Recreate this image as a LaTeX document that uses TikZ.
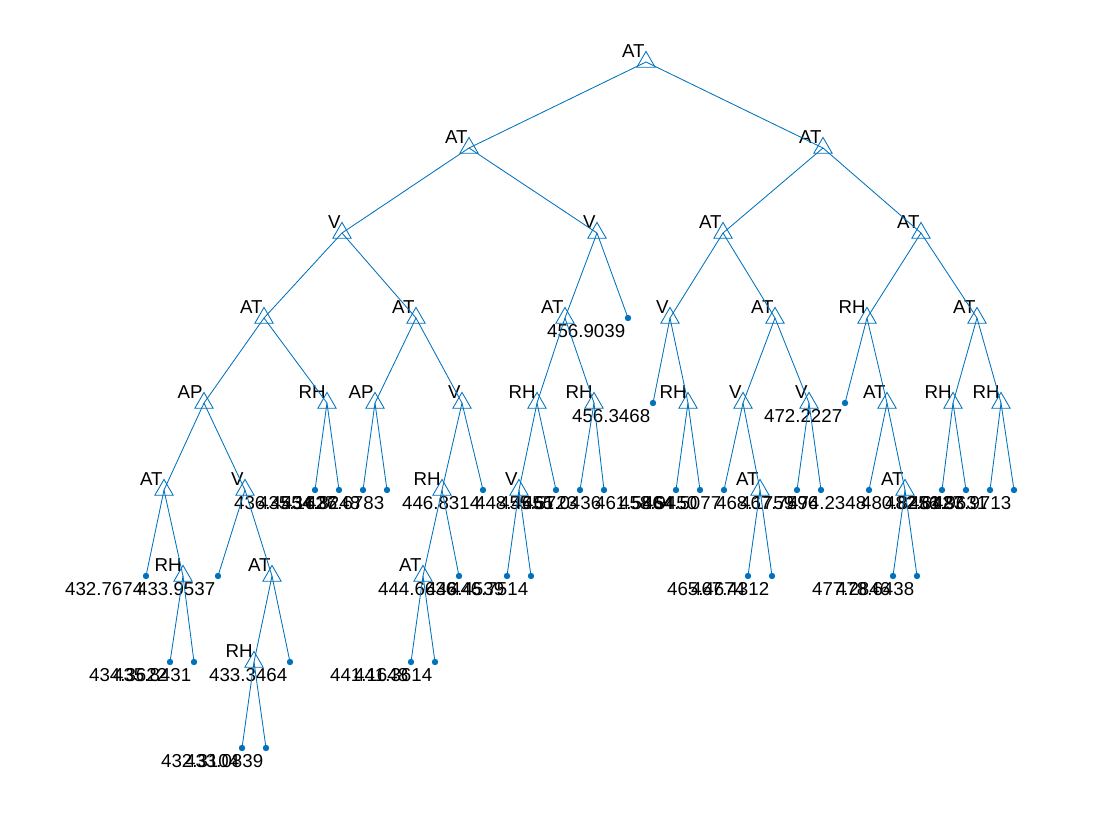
\documentclass[tikz,border=0pt]{standalone}
\usepackage{fontspec}
\setmainfont{Liberation Sans}
\usepackage{tikz}
\usetikzlibrary{shapes.geometric}
\definecolor{treeblue}{RGB}{0,114,189}
\tikzset{
tree/.style={x=0.025cm,y=-0.025cm,line width=0.6pt,
    font=\fontsize{13.3}{16}\selectfont},
split/.style={regular polygon,regular polygon sides=3,draw=treeblue,
    minimum size=0.53cm,inner sep=0pt,
    label={[split label]center:\llap{#1}}},
split label/.style={inner sep=0pt,text=black,xshift=-1pt,yshift=7.5pt},
leaf/.style={circle,fill=treeblue,inner sep=0pt,minimum size=0.16cm,
    label={[leaf label]center:\llap{#1}}},
leaf label/.style={inner sep=0pt,text=black,xshift=-2pt,yshift=-9pt},
branch/.style={draw=treeblue},
}

\begin{document}
\begin{tikzpicture}[tree]
    \useasboundingbox (0,0) rectangle (1120,840);

    % level 0 to 3
    \node[split=AT] (1) at (646,62) {};
    \node[split=AT] (2) at (469,148) {};
    \node[split=AT] (3) at (823,148) {};
    \node[split=V] (4) at (342,233) {};
    \node[split=V] (5) at (597,233) {};
    \node[split=AT] (6) at (723,233) {};
    \node[split=AT] (7) at (921,233) {};
    \node[split=AT] (8) at (264,318) {};
    \node[split=AT] (9) at (416,318) {};
    \node[split=AT] (10) at (565,318) {};
    \node[leaf=456.9039] (11) at (628,318) {};
    \node[split=V] (12) at (670,318) {};
    \node[split=AT] (13) at (775,318) {};
    \node[split=RH] (14) at (867,318) {};
    \node[split=AT] (15) at (977,318) {};

    % level 4
    \node[split=AP] (16) at (204,403) {};
    \node[split=RH] (17) at (327,403) {};
    \node[split=AP] (18) at (375,403) {};
    \node[split=V] (19) at (462,403) {};
    \node[split=RH] (20) at (537,403) {};
    \node[split=RH] (21) at (594,403) {};
    \node[leaf=456.3468] (22) at (653,403) {};
    \node[split=RH] (23) at (688,403) {};
    \node[split=V] (24) at (743,403) {};
    \node[split=V] (25) at (809,403) {};
    \node[leaf=472.2227] (26) at (845,403) {};
    \node[split=AT] (27) at (887,403) {};
    \node[split=RH] (28) at (953,403) {};
    \node[split=RH] (29) at (1001,403) {};

    % level 5
    \node[split=AT] (30) at (164,490) {};
    \node[split=V] (31) at (245,490) {};
    \node[leaf=436.4554] (32) at (315,490) {};
    \node[leaf=435.1627] (33) at (339,490) {};
    \node[leaf=434.8248] (34) at (363,490) {};
    \node[leaf=436.6783] (35) at (387,490) {};
    \node[split=RH] (36) at (442,490) {};
    \node[leaf=446.8314] (37) at (483,490) {};
    \node[split=V] (38) at (519,490) {};
    \node[leaf=448.4655] (39) at (556,490) {};
    \node[leaf=455.5723] (40) at (580,490) {};
    \node[leaf=461.0436] (41) at (604,490) {};
    \node[leaf=461.5864] (42) at (676,490) {};
    \node[leaf=458.9450] (43) at (700,490) {};
    \node[leaf=464.5077] (44) at (724,490) {};
    \node[split=AT] (45) at (760,490) {};
    \node[leaf=468.1759] (46) at (797,490) {};
    \node[leaf=467.7596] (47) at (821,490) {};
    \node[leaf=474.2348] (48) at (869,490) {};
    \node[split=AT] (49) at (905,490) {};
    \node[leaf=480.8256] (50) at (942,490) {};
    \node[leaf=482.6427] (51) at (966,490) {};
    \node[leaf=481.9631] (52) at (990,490) {};
    \node[leaf=483.9713] (53) at (1014,490) {};

    % level 6 to 8
    \node[leaf=432.7674] (54) at (146,576) {};
    \node[split=RH] (55) at (183,576) {};
    \node[leaf=433.9537] (56) at (218,576) {};
    \node[split=AT] (57) at (272,576) {};
    \node[split=AT] (58) at (423,576) {};
    \node[leaf=444.6636] (59) at (459,576) {};
    \node[leaf=446.4539] (60) at (507,576) {};
    \node[leaf=446.7514] (61) at (531,576) {};
    \node[leaf=465.4674] (62) at (748,576) {};
    \node[leaf=467.4312] (63) at (772,576) {};
    \node[leaf=477.2846] (64) at (893,576) {};
    \node[leaf=478.6438] (65) at (917,576) {};
    \node[leaf=434.3622] (66) at (170,662) {};
    \node[leaf=435.8431] (67) at (194,662) {};
    \node[split=RH] (68) at (254,662) {};
    \node[leaf=433.3464] (69) at (290,662) {};
    \node[leaf=441.1648] (70) at (411,662) {};
    \node[leaf=441.3614] (71) at (435,662) {};
    \node[leaf=432.3104] (72) at (242,748) {};
    \node[leaf=433.0839] (73) at (266,748) {};

    \path[branch]
        (1.center) edge (2.center) edge (3.center)
        (2.center) edge (4.center) edge (5.center)
        (3.center) edge (6.center) edge (7.center)
        (4.center) edge (8.center) edge (9.center)
        (5.center) edge (10.center) edge (11.center)
        (6.center) edge (12.center) edge (13.center)
        (7.center) edge (14.center) edge (15.center)
        (8.center) edge (16.center) edge (17.center)
        (9.center) edge (18.center) edge (19.center)
        (10.center) edge (20.center) edge (21.center)
        (12.center) edge (22.center) edge (23.center)
        (13.center) edge (24.center) edge (25.center)
        (14.center) edge (26.center) edge (27.center)
        (15.center) edge (28.center) edge (29.center)
        (16.center) edge (30.center) edge (31.center)
        (17.center) edge (32.center) edge (33.center)
        (18.center) edge (34.center) edge (35.center)
        (19.center) edge (36.center) edge (37.center)
        (20.center) edge (38.center) edge (39.center)
        (21.center) edge (40.center) edge (41.center)
        (23.center) edge (42.center) edge (43.center)
        (24.center) edge (44.center) edge (45.center)
        (25.center) edge (46.center) edge (47.center)
        (27.center) edge (48.center) edge (49.center)
        (28.center) edge (50.center) edge (51.center)
        (29.center) edge (52.center) edge (53.center)
        (30.center) edge (54.center) edge (55.center)
        (31.center) edge (56.center) edge (57.center)
        (36.center) edge (58.center) edge (59.center)
        (38.center) edge (60.center) edge (61.center)
        (45.center) edge (62.center) edge (63.center)
        (49.center) edge (64.center) edge (65.center)
        (55.center) edge (66.center) edge (67.center)
        (57.center) edge (68.center) edge (69.center)
        (58.center) edge (70.center) edge (71.center)
        (68.center) edge (72.center) edge (73.center)
    ;
\end{tikzpicture}
\end{document}
